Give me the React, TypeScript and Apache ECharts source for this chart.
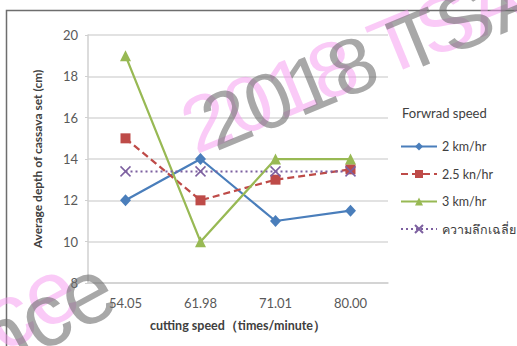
import React, { useEffect, useRef } from "react";
import * as echarts from "echarts";

const categories = ["54.05", "61.98", "71.01", "80.00"];
const speed2 = [12, 14, 11, 11.5];
const speed25 = [15, 12, 13, 13.5];
const speed3 = [19, 10, 14, 14];
const average = [13.4, 13.4, 13.4, 13.4];
const seriesNames = ["2 km/hr", "2.5 kn/hr", "3 km/hr", "ความลึกเฉลี่ย"];
const yTicks = { min: 8, max: 20, interval: 2 };

const FONT = "Lato, 'Open Sans', 'Noto Sans', sans-serif";
const WM_FONT = "'Liberation Sans', Arial, sans-serif";

export default function App() {
  const ref = useRef<HTMLDivElement>(null);
  useEffect(() => {
    if (!ref.current) return;
    const chart = echarts.init(ref.current, undefined, { renderer: "svg" });
    const xPath = "path://M0,0L10,10M10,0L0,10";
    chart.setOption({
      animation: false,
      backgroundColor: "#ffffff",
      textStyle: { fontFamily: FONT },
      grid: { left: 88, right: 129, top: 35, bottom: 63 },
      xAxis: {
        type: "category",
        data: categories,
        boundaryGap: true,
        axisLine: { lineStyle: { color: "#d0d0d0", width: 1.5 } },
        axisTick: { show: false },
        axisLabel: { color: "#595959", fontSize: 13, margin: 13, fontFamily: FONT },
        name: "cutting speed（times/minute）",
        nameLocation: "middle",
        nameGap: 36,
        nameTextStyle: { color: "#404040", fontSize: 12.5, fontWeight: "bold", fontFamily: FONT },
      },
      yAxis: {
        type: "value",
        min: yTicks.min,
        max: yTicks.max,
        interval: yTicks.interval,
        axisLine: { show: true, lineStyle: { color: "#d0d0d0", width: 1.5 } },
        axisTick: { show: true, length: 3, lineStyle: { color: "#d0d0d0" } },
        axisLabel: { color: "#595959", fontSize: 13, margin: 10, fontFamily: FONT },
        splitLine: { lineStyle: { color: "#d9d9d9", width: 1.5 } },
        name: "Average depth of cassava set (cm)",
        nameLocation: "middle",
        nameGap: 45,
        nameTextStyle: { color: "#404040", fontSize: 12, fontWeight: "bold", fontFamily: FONT },
      },
      legend: {
        orient: "vertical",
        left: 395,
        top: 135,
        itemWidth: 36,
        itemHeight: 10,
        itemGap: 14.5,
        textStyle: { color: "#404040", fontSize: 12.5, fontFamily: FONT },
        data: seriesNames,
      },
      series: [
        {
          name: seriesNames[0],
          type: "line",
          data: speed2,
          symbol: "diamond",
          symbolSize: [11, 12],
          lineStyle: { color: "#4a7ebb", width: 2.25 },
          itemStyle: { color: "#4a7ebb" },
        },
        {
          name: seriesNames[1],
          type: "line",
          data: speed25,
          symbol: "rect",
          symbolSize: 10,
          lineStyle: { color: "#be4b48", width: 2.25, type: [7, 4] },
          itemStyle: { color: "#be4b48" },
        },
        {
          name: seriesNames[2],
          type: "line",
          data: speed3,
          symbol: "triangle",
          symbolSize: [11, 11],
          lineStyle: { color: "#98b954", width: 2.25 },
          itemStyle: { color: "#98b954" },
        },
        {
          name: seriesNames[3],
          type: "line",
          data: average,
          symbol: xPath,
          symbolSize: 10,
          lineStyle: { color: "#7d60a0", width: 2, type: [2, 3] },
          itemStyle: { color: "none", borderColor: "#7d60a0", borderWidth: 1.5 },
        },
      ],
      graphic: [
        {
          type: "rect",
          left: 4,
          top: 8,
          shape: { x: 0, y: 0, width: 560, height: 400 },
          style: { fill: "none", stroke: "#6e6e6e", lineWidth: 1.5 },
          silent: true,
          z: 1,
        },
        {
          type: "text",
          x: 402,
          y: 106,
          style: {
            text: "Forwrad speed",
            fill: "#404040",
            font: "13px " + FONT,
          },
          z: 10,
        },
        // pink watermark
        {
          type: "text",
          x: 200,
          y: 166,
          rotation: 0.39,
          scaleX: 1.05,
          style: {
            text: "2018 TSA",
            fill: "rgba(245,150,240,0.5)",
            font: "78px " + WM_FONT,
            textVerticalAlign: "bottom",
          },
          z: 200,
          silent: true,
        },
        {
          type: "text",
          x: -35,
          y: 390,
          rotation: 0.5,
          style: {
            text: "nce",
            fill: "rgba(245,150,240,0.5)",
            font: "90px " + WM_FONT,
            textVerticalAlign: "bottom",
          },
          z: 200,
          silent: true,
        },
        // gray watermark
        {
          type: "text",
          x: 220,
          y: 163,
          rotation: 0.39,
          scaleX: 1.05,
          style: {
            text: "2018 TSA",
            fill: "rgba(110,110,110,0.6)",
            font: "78px " + WM_FONT,
            textVerticalAlign: "bottom",
          },
          z: 201,
          silent: true,
        },
        {
          type: "text",
          x: 2,
          y: 390,
          rotation: 0.5,
          style: {
            text: "nce",
            fill: "rgba(110,110,110,0.6)",
            font: "90px " + WM_FONT,
            textVerticalAlign: "bottom",
          },
          z: 201,
          silent: true,
        },
      ],
    });
    return () => chart.dispose();
  }, []);
  return (
    <div
      ref={ref}
      style={{ position: "fixed", left: 0, top: 0, width: 517, height: 346, background: "#fff" }}
    />
  );
}
